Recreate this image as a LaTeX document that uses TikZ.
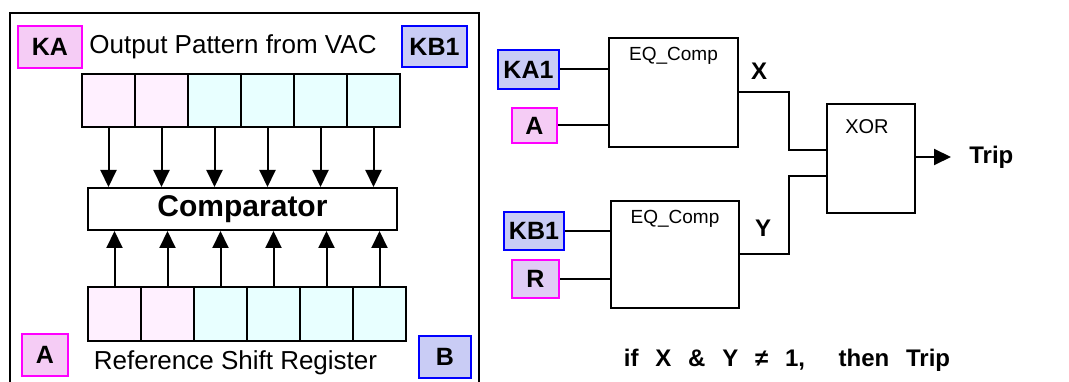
\documentclass[tikz,border=0pt]{standalone}
\usepackage{fontspec}
\setmainfont{Liberation Sans}
\usetikzlibrary{arrows.meta, positioning}
\definecolor{TagPink}{rgb}{0.96, 0.80, 0.96}
\definecolor{TagBlue}{rgb}{0.79, 0.80, 0.96}
\definecolor{TagLilac}{rgb}{0.88, 0.80, 0.96}
\definecolor{EdgeMagenta}{rgb}{1.0, 0.0, 1.0}
\definecolor{EdgeBlue}{rgb}{0.0, 0.0, 1.0}
\definecolor{CellPink}{rgb}{1.0, 0.94, 1.0}
\definecolor{CellCyan}{rgb}{0.91, 1.0, 1.0}

\begin{document}
\begin{tikzpicture}[
  x=1pt, y=-1pt,
  tag/.style={
    draw,
    rectangle,
    line width=2pt,
    inner sep=0pt,
    font=\fontsize{25}{29}\selectfont\bfseries
  },
  pinktag/.style={tag, draw=EdgeMagenta, fill=TagPink},
  bluetag/.style={tag, draw=EdgeBlue, fill=TagBlue},
  lilactag/.style={tag, draw=EdgeMagenta, fill=TagLilac},
  cell/.style={
    draw,
    rectangle,
    line width=2pt,
    minimum width=53pt,
    minimum height=53pt,
    inner sep=0pt
  },
  pinkcell/.style={cell, fill=CellPink},
  cyancell/.style={cell, fill=CellCyan},
  block/.style={draw, rectangle, line width=2pt, inner sep=0pt},
  plain/.style={font=\fontsize{26}{30}\selectfont},
  blocktext/.style={font=\fontsize{19}{22}\selectfont},
  bold/.style={font=\fontsize{24}{28}\selectfont\bfseries},
  wire/.style={line width=2pt},
  arrow/.style={
    -{Triangle[length=17pt, width=16pt]},
    line width=2pt
  }
]
\useasboundingbox (0,0) rectangle (1069,382);

% Left panel: frame, tags and captions
\draw[wire] (10,385) |- (479,13) -- (479,385);
\node[pinktag, minimum width=64pt, minimum height=42pt] (ka)  at (50,47)    {KA};
\node[plain]                                           (out) at (233,47)   {Output Pattern from VAC};
\node[bluetag, minimum width=65pt, minimum height=41pt] (kb1) at (434.5,46.5) {KB1};
\node[pinktag, minimum width=46pt, minimum height=42pt] (a)   at (45,355)   {A};
\node[plain]                                           (ref) at (235.5,363) {Reference Shift Register};
\node[bluetag, minimum width=52pt, minimum height=42pt] (b)   at (445,357)  {B};

% Registers and comparator
\node[pinkcell] (t1) at (108.5,100.5) {};
\node[pinkcell] (t2) at (161.5,100.5) {};
\node[cyancell] (t3) at (214.5,100.5) {};
\node[cyancell] (t4) at (267.5,100.5) {};
\node[cyancell] (t5) at (320.5,100.5) {};
\node[cyancell] (t6) at (373.5,100.5) {};
\node[block, minimum width=309pt, minimum height=42pt,
      font=\fontsize{30}{34}\selectfont\bfseries] (cmp) at (242.5,209) {Comparator};
\node[pinkcell, minimum height=54pt] (b1) at (114.5,314) {};
\node[pinkcell, minimum height=54pt] (b2) at (167.5,314) {};
\node[cyancell, minimum height=54pt] (b3) at (220.5,314) {};
\node[cyancell, minimum height=54pt] (b4) at (273.5,314) {};
\node[cyancell, minimum height=54pt] (b5) at (326.5,314) {};
\node[cyancell, minimum height=54pt] (b6) at (379.5,314) {};

% Arrows into the comparator
\foreach \i in {1,...,6} {
  \draw[arrow] (t\i.south) -- (t\i.south |- cmp.north);
  \draw[arrow] (b\i.north) -- (b\i.north |- cmp.south);
}

% Right panel: comparators and XOR
\node[bluetag, minimum width=61pt, minimum height=39pt]  (ka1r) at (528.5,69.5) {KA1};
\node[pinktag, minimum width=45pt, minimum height=35pt]  (ar)   at (534.5,125.5) {A};
\node[bluetag, minimum width=60pt, minimum height=38pt]  (kb1r) at (534,231)    {KB1};
\node[lilactag, minimum width=47pt, minimum height=38pt] (rr)   at (535.5,279)  {R};
\node[block, minimum width=129pt, minimum height=109pt] (eqa) at (673.5,92.5) {};
\node[block, minimum width=128pt, minimum height=107pt] (eqb) at (675,254.5)  {};
\node[block, minimum width=88pt, minimum height=109pt]  (xor) at (871,158.5)  {};
\node[blocktext] (eqatext) at ([yshift=-19pt]eqa.north) {EQ\_Comp};
\node[blocktext] (eqbtext) at ([yshift=-19pt]eqb.north) {EQ\_Comp};
\node[font=\fontsize{20}{24}\selectfont] (xortext) at ([xshift=-4pt, yshift=-24pt]xor.north) {XOR};

% Wires
\draw[wire] (ka1r) -- (ka1r -| eqa.west);
\draw[wire] (ar)   -- (ar -| eqa.west);
\draw[wire] (kb1r) -- (kb1r -| eqb.west);
\draw[wire] (rr)   -- (rr -| eqb.west);
\draw[wire] (eqa.east) -- ++(50,0) |- ([yshift=8.5pt]xor.west);
\draw[wire] (eqb.east) -- ++(49,0) |- ([yshift=-17.5pt]xor.west);
\node[bold] (xlab) at (759,71)  {X};
\node[bold] (ylab) at (763,228) {Y};

% Output
\draw[arrow] ([yshift=1.5pt]xor.east) -- ++(35,0)
  node[right, bold, xshift=14pt] (trip) {Trip};
\node[bold] (rule) at (787,360) {\spaceskip=0.7em\relax if X \& Y ≠ 1,\ \ then Trip};

\end{tikzpicture}
\end{document}
